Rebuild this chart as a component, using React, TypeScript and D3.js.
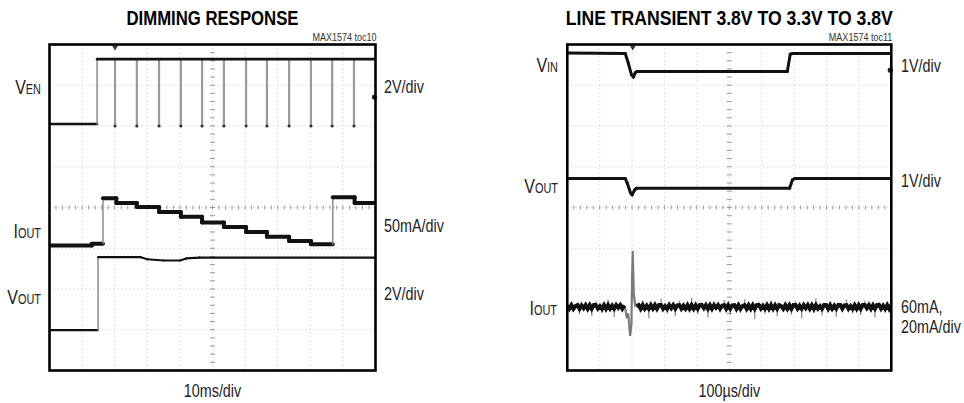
import React from "react";
import * as d3 from "d3";

const W = 964;
const H = 403;

// ---------- Data (screen divisions: x 0..10, y -4..+4) ----------
// Left: DIMMING RESPONSE
const LEFT_VEN: [number, number][] = [[0, 2.05], [1.46, 2.05], [1.46, 3.64], [10, 3.64]];
const LEFT_VEN_PULSES = [2.01, 2.68, 3.36, 4.03, 4.68, 5.35, 6.03, 6.67, 7.35, 8.02, 8.67, 9.34];
const LEFT_VEN_PULSE_LOW = 2.0;
const LEFT_IOUT_T = [0, 1.3, 1.64, 2.05, 2.68, 3.36, 4.03, 4.68, 5.35, 6.03, 6.67, 7.35, 8.02, 8.69, 9.36, 10];
const LEFT_IOUT_V = [-0.93, -0.89, 0.23, 0.11, 0.01, -0.11, -0.23, -0.37, -0.48, -0.6, -0.72, -0.82, -0.9, 0.25, 0.11, 0.11];
const LEFT_VOUT: [number, number][] = [
  [0, -3.01], [1.49, -3.01], [1.49, -1.22], [2.8, -1.22], [3.0, -1.27], [3.5, -1.3],
  [4.0, -1.3], [4.2, -1.25], [4.6, -1.23], [10, -1.23],
];
const LEFT_MARKERS = [2.71];
const LEFT_TRIGGER = 2.01;

// Right: LINE TRANSIENT
const RIGHT_VIN: [number, number][] = [
  [0, 3.79], [1.79, 3.78], [1.88, 3.55], [1.98, 3.26], [2.04, 3.2], [2.1, 3.31], [2.15, 3.34],
  [6.79, 3.34], [6.88, 3.76], [6.95, 3.78], [10, 3.78],
];
const RIGHT_VOUT: [number, number][] = [
  [0, 0.71], [1.79, 0.71], [1.85, 0.6], [1.95, 0.36], [2.0, 0.31], [2.07, 0.42], [2.13, 0.47],
  [6.86, 0.47], [6.95, 0.68], [7.02, 0.71], [10, 0.71],
];
const RIGHT_IOUT_BASE = -2.44;
const RIGHT_IOUT_SPIKE: [number, number][] = [
  [1.78, -2.44], [1.84, -2.72], [1.88, -2.6], [1.94, -3.15], [1.98, -2.85], [2.0, -1.7],
  [2.02, -1.07], [2.05, -2.1], [2.1, -2.44],
];
const RIGHT_IOUT_NOISE = [
  0.03, -0.05, 0.08, -0.12, 0.02, 0.1, -0.18, 0.04, -0.03, 0.12,
  -0.08, 0.05, -0.22, 0.06, 0.14, -0.04, 0.02, -0.15, 0.09, -0.06,
  0.18, -0.1, 0.03, -0.25, 0.07, -0.02, 0.11, -0.07, 0.04, -0.14,
  0.06, -0.03, 0.13, -0.2, 0.02, 0.09, -0.05, 0.16, -0.11, 0.03,
  -0.28, 0.08, -0.04, 0.12, -0.09, 0.05, 0.2, -0.06, 0.02, -0.16,
  0.1, -0.03, 0.07, -0.22, 0.04, 0.15, -0.08, 0.03, -0.12, 0.09,
  -0.05, 0.22, -0.1, 0.04, -0.18, 0.06, 0.11, -0.03, 0.08, -0.26,
  0.05, -0.07, 0.14, -0.02, 0.1, -0.13, 0.03, 0.17, -0.09, 0.06,
  -0.2, 0.04, 0.08, -0.05, 0.12, -0.15, 0.02, 0.19, -0.07, 0.05,
  -0.11, 0.09, -0.3, 0.06, 0.13, -0.04, 0.03, -0.17, 0.1, -0.06,
  0.16, -0.09, 0.04, -0.23, 0.07, 0.02, -0.12, 0.11, -0.05, 0.08,
  -0.19, 0.05, 0.14, -0.08, 0.03, -0.27, 0.09, -0.03, 0.12, -0.1,
  0.06, -0.15, 0.21, -0.04, 0.02, -0.21, 0.08, 0.05, -0.09, 0.13,
  -0.06, 0.03, -0.24, 0.1, 0.07, -0.12, 0.04, 0.18, -0.07, 0.02,
  -0.16, 0.11, -0.05, 0.08, -0.2, 0.06, 0.15, -0.03, 0.09, -0.13,
  0.04, -0.26, 0.07, 0.12, -0.08, 0.03, -0.14, 0.1, -0.05, 0.06,
];
const RIGHT_MARKERS = [3.37];
const RIGHT_TRIGGER = 2.02;

// Text
const LEFT_TITLE = "DIMMING RESPONSE";
const RIGHT_TITLE = "LINE TRANSIENT 3.8V TO 3.3V TO 3.8V";
const LEFT_TOC = "MAX1574 toc10";
const RIGHT_TOC = "MAX1574 toc11";
const LEFT_XLABEL = "10ms/div";
const RIGHT_XLABEL = "100\u00B5s/div";

const FONT = "'Liberation Sans', Arial, sans-serif";
const SX = 0.82;

type Pt = [number, number];

function NText({
  x, y, size, anchor = "start", weight = 400, fill = "#222", sx = SX, children,
}: { x: number; y: number; size: number; anchor?: string; weight?: number; fill?: string; sx?: number; children: React.ReactNode }) {
  return (
    <text
      transform={`translate(${x},${y}) scale(${sx},1)`}
      textAnchor={anchor}
      fontFamily={FONT}
      fontSize={size}
      fontWeight={weight}
      fill={fill}
    >
      {children}
    </text>
  );
}

function Grid({ x, y }: { x: d3.ScaleLinear<number, number>; y: d3.ScaleLinear<number, number> }) {
  const xs = d3.range(1, 10);
  const ys = d3.range(-3, 4);
  const minorX = d3.range(0, 10.01, 0.2);
  const minorY = d3.range(-4, 4.01, 0.2);
  return (
    <g>
      {xs.map((d) => (
        <line key={"gx" + d} x1={x(d)} x2={x(d)} y1={y(4)} y2={y(-4)} stroke="#c4c4c4" strokeWidth={1} strokeDasharray="1 3" />
      ))}
      {ys.map((d) => (
        <line key={"gy" + d} x1={x(0)} x2={x(10)} y1={y(d)} y2={y(d)} stroke="#c4c4c4" strokeWidth={1} strokeDasharray="1 3" />
      ))}
      {minorX.map((d, i) => (
        <line key={"mx" + i} x1={x(d)} x2={x(d)} y1={y(0) - 2} y2={y(0) + 2} stroke="#9a9a9a" strokeWidth={1} />
      ))}
      {minorY.map((d, i) => (
        <line key={"my" + i} x1={x(5) - 2.5} x2={x(5) + 2.5} y1={y(d)} y2={y(d)} stroke="#9a9a9a" strokeWidth={1} />
      ))}
    </g>
  );
}

function Trace({ pts, x, y, width }: { pts: Pt[]; x: d3.ScaleLinear<number, number>; y: d3.ScaleLinear<number, number>; width: number }) {
  const segs = d3.pairs(pts);
  return (
    <g>
      {segs.map(([a, b], i) => {
        const vertical = Math.abs(b[0] - a[0]) < 0.02 && Math.abs(b[1] - a[1]) > 0.3;
        return (
          <line
            key={i}
            x1={x(a[0])}
            y1={y(a[1])}
            x2={x(b[0])}
            y2={y(b[1])}
            stroke={vertical ? "#8a8a8a" : "#111"}
            strokeWidth={vertical ? 1.5 : width}
            strokeLinecap="round"
          />
        );
      })}
    </g>
  );
}

function ChanLabel({ x, y, main, sub }: { x: number; y: number; main: string; sub: string }) {
  return (
    <NText x={x} y={y} size={20.5} anchor="end" sx={0.78}>
      <tspan fontSize={20.5}>{main}</tspan>
      <tspan fontSize={14}>{sub}</tspan>
    </NText>
  );
}

function Panel({
  left, right, top, bottom, title, titleLen, toc, xlabel, markers, trigger, children,
}: {
  left: number; right: number; top: number; bottom: number; title: string; titleLen: number; toc: string; xlabel: string;
  markers: number[]; trigger: number;
  children: (x: d3.ScaleLinear<number, number>, y: d3.ScaleLinear<number, number>) => React.ReactNode;
}) {
  const x = d3.scaleLinear().domain([0, 10]).range([left, right]);
  const y = d3.scaleLinear().domain([-4, 4]).range([bottom, top]);
  const cx = (left + right) / 2;
  return (
    <g>
      <text x={cx} y={25} textAnchor="middle" fontFamily={FONT} fontWeight={700} fontSize={21} textLength={titleLen} lengthAdjust="spacingAndGlyphs" fill="#000">
        {title}
      </text>
      <NText x={right + 1} y={40.5} size={11} anchor="end" fill="#333">
        {toc}
      </NText>
      <clipPath id={"clip" + Math.round(left)}>
        <rect x={left} y={top} width={right - left} height={bottom - top} />
      </clipPath>
      <Grid x={x} y={y} />
      <g clipPath={`url(#clip${Math.round(left)})`}>{children(x, y)}</g>
      {markers.map((m, i) => (
        <circle key={i} cx={right - 1} cy={y(m)} r={2.6} fill="#222" />
      ))}
      <path d={`M${x(trigger) - 3},${top + 1} L${x(trigger) + 3},${top + 1} L${x(trigger)},${top + 6} Z`} fill="#333" />
      <rect x={left} y={top} width={right - left} height={bottom - top} fill="none" stroke="#000" strokeWidth={2.6} />
      <NText x={cx} y={397} size={17.5} anchor="middle">
        {xlabel}
      </NText>
    </g>
  );
}

export default function App() {
  const iout: Pt[] = LEFT_IOUT_T.map((t, i) => [t, LEFT_IOUT_V[i]] as Pt);
  const ioutSteps: Pt[] = [];
  iout.forEach((p, i) => {
    if (i > 0) ioutSteps.push([p[0], iout[i - 1][1]]);
    ioutSteps.push(p);
  });
  const noiseT = d3.scaleLinear().domain([0, RIGHT_IOUT_NOISE.length - 1]).range([0, 10]);
  const noisePts: Pt[] = RIGHT_IOUT_NOISE.map((v, i) => [noiseT(i), RIGHT_IOUT_BASE + v] as Pt).filter(
    (p) => p[0] < 1.78 || p[0] > 2.1
  );
  const corePts: Pt[] = RIGHT_IOUT_NOISE.map(
    (v, i) => [noiseT(i), RIGHT_IOUT_BASE + Math.max(-0.045, Math.min(0.045, v))] as Pt
  );
  const line = (x: d3.ScaleLinear<number, number>, y: d3.ScaleLinear<number, number>) =>
    d3.line<Pt>().x((p) => x(p[0])).y((p) => y(p[1]));

  return (
    <svg width={W} height={H} style={{ position: "absolute", left: 0, top: 0, background: "#fff" }}>
      <rect width={W} height={H} fill="#fff" />
      <Panel
        left={49.5} right={375.5} top={44.5} bottom={370.5}
        title={LEFT_TITLE} titleLen={172} toc={LEFT_TOC} xlabel={LEFT_XLABEL}
        markers={LEFT_MARKERS} trigger={LEFT_TRIGGER}
      >
        {(x, y) => (
          <g>
            {LEFT_VEN_PULSES.map((t, i) => (
              <g key={i}>
                <line x1={x(t)} x2={x(t)} y1={y(LEFT_VEN[3][1])} y2={y(LEFT_VEN_PULSE_LOW)} stroke="#9a9a9a" strokeWidth={2.2} />
                <circle cx={x(t)} cy={y(LEFT_VEN_PULSE_LOW)} r={1.6} fill="#333" />
              </g>
            ))}
            <Trace pts={LEFT_VEN} x={x} y={y} width={2.6} />
            <Trace pts={ioutSteps} x={x} y={y} width={4} />
            <Trace pts={LEFT_VOUT} x={x} y={y} width={2.2} />
          </g>
        )}
      </Panel>
      <Panel
        left={567.3} right={891.3} top={44.5} bottom={370.5}
        title={RIGHT_TITLE} titleLen={327} toc={RIGHT_TOC} xlabel={RIGHT_XLABEL}
        markers={RIGHT_MARKERS} trigger={RIGHT_TRIGGER}
      >
        {(x, y) => (
          <g>
            <Trace pts={RIGHT_VIN} x={x} y={y} width={3} />
            <Trace pts={RIGHT_VOUT} x={x} y={y} width={3} />
            {noisePts.map((p, i) => (
              <line key={i} x1={x(p[0])} x2={x(p[0])} y1={y(RIGHT_IOUT_BASE)} y2={y(p[1])} stroke="#8c8c8c" strokeWidth={1.3} />
            ))}
            <path d={line(x, y)(RIGHT_IOUT_SPIKE) || ""} fill="none" stroke="#7a7a7a" strokeWidth={2.2} />
            <path d={line(x, y)(corePts.filter((p) => p[0] < 1.78)) || ""} fill="none" stroke="#111" strokeWidth={4} />
            <path d={line(x, y)(corePts.filter((p) => p[0] > 2.1)) || ""} fill="none" stroke="#111" strokeWidth={4} />
          </g>
        )}
      </Panel>

      {/* Left channel labels */}
      <ChanLabel x={41} y={94} main="V" sub="EN" />
      <ChanLabel x={41} y={238} main="I" sub="OUT" />
      <ChanLabel x={41} y={304} main="V" sub="OUT" />
      <NText x={384} y={93} size={17.5}>2V/div</NText>
      <NText x={384} y={232} size={17.5}>50mA/div</NText>
      <NText x={384} y={300} size={17.5}>2V/div</NText>

      {/* Right channel labels */}
      <ChanLabel x={558} y={72} main="V" sub="IN" />
      <ChanLabel x={558} y={193} main="V" sub="OUT" />
      <ChanLabel x={557} y={315} main="I" sub="OUT" />
      <NText x={901} y={72} size={17.5}>1V/div</NText>
      <NText x={901} y={187} size={17.5}>1V/div</NText>
      <NText x={901} y={313} size={17.5}>60mA,</NText>
      <NText x={901} y={333} size={17.5}>20mA/div</NText>
    </svg>
  );
}
